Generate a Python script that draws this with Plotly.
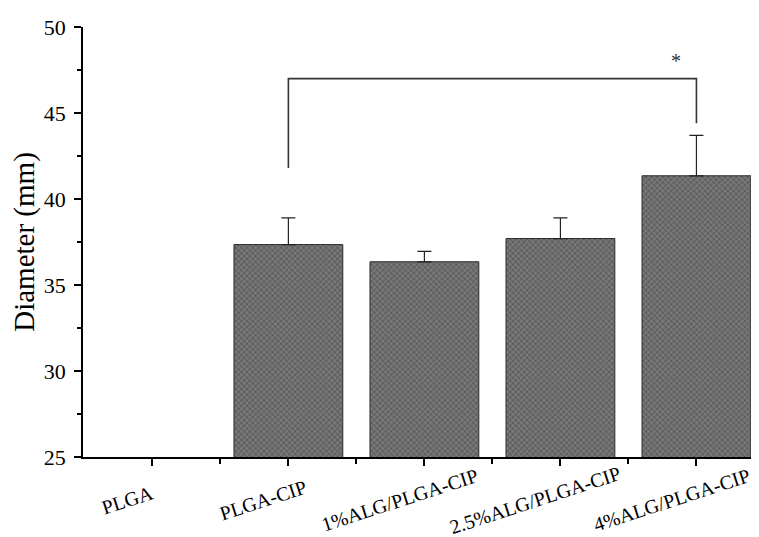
import plotly.graph_objects as go

categories = ["PLGA", "PLGA-CIP", "1%ALG/PLGA-CIP", "2.5%ALG/PLGA-CIP", "4%ALG/PLGA-CIP"]
diameter = [0, 37.35, 36.35, 37.7, 41.35]
err_up = [0, 1.55, 0.6, 1.2, 2.35]

bracket_y = 47.0
bracket_left_bottom = 41.8
bracket_right_bottom = 44.4
star_y = 48.0

x = list(range(len(categories)))
FONT = "Liberation Serif"

fig = go.Figure()
fig.add_trace(go.Bar(
    x=x, y=diameter, width=0.8,
    marker=dict(color="#5e5e5e",
                line=dict(color="#2a2a2a", width=1),
                pattern=dict(shape="x", bgcolor="#777777", fgcolor="#2e2e2e",
                             size=4, solidity=0.35)),
    error_y=dict(type="data", symmetric=False, array=err_up,
                 arrayminus=[0]*len(err_up), color="#222222",
                 thickness=1.2, width=7, visible=True),
    showlegend=False,
))

# significance bracket between PLGA-CIP (1) and 4%ALG/PLGA-CIP (4)
fig.add_trace(go.Scatter(
    x=[1, 1, 4, 4],
    y=[bracket_left_bottom, bracket_y, bracket_y, bracket_right_bottom],
    mode="lines", line=dict(color="#333333", width=1.6),
    showlegend=False, hoverinfo="skip",
))
fig.add_annotation(x=3.85, y=star_y, text="*", showarrow=False,
                   font=dict(family=FONT, size=20, color="#333333"))

# rotated category labels (centred a little left of each tick)
for xi, lab in zip(x, categories):
    fig.add_annotation(x=xi, xref="x", y=-0.1, yref="paper", text=lab,
                       textangle=-18, showarrow=False, xanchor="center",
                       yanchor="middle", xshift=-25,
                       font=dict(family=FONT, size=20, color="black"))

fig.update_layout(
    width=759, height=537,
    margin=dict(l=75, r=8, t=19, b=88),
    plot_bgcolor="white", paper_bgcolor="white",
    font=dict(family=FONT, color="black"),
)
fig.update_xaxes(
    range=[-0.51, 4.46], tickvals=x, ticktext=[""]*len(x),
    showgrid=False, zeroline=False,
    showline=True, linecolor="black", linewidth=1.5,
    ticks="outside", ticklen=7, tickwidth=1.5, tickcolor="black",
    minor=dict(tickvals=[0.5, 1.5, 2.5, 3.5], ticks="outside", ticklen=5,
               tickwidth=1.5, tickcolor="black"),
)
fig.update_yaxes(
    range=[25, 50], dtick=5, tickfont=dict(size=22), showgrid=False,
    zeroline=False, showline=True, linecolor="black", linewidth=1.5,
    ticks="outside", ticklen=7, tickwidth=1.5, tickcolor="black",
    ticklabelstandoff=4,
    minor=dict(dtick=2.5, ticks="outside", ticklen=4, tickwidth=1.5, tickcolor="black"),
    title=dict(text="Diameter (mm)", font=dict(size=29), standoff=9),
)

fig.write_html("out.html")
